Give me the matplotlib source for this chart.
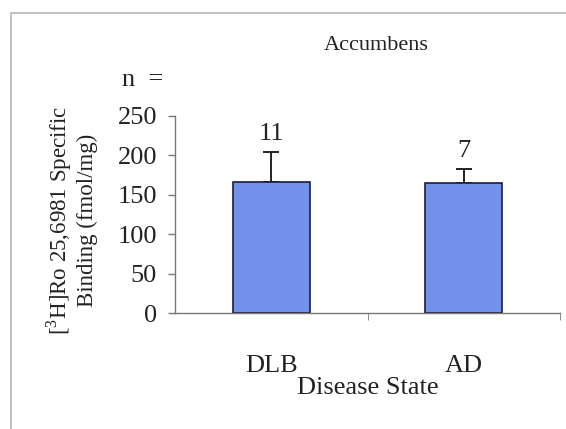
import matplotlib
matplotlib.use("Agg")
import matplotlib.pyplot as plt
from matplotlib.patches import Rectangle

# data
groups = ["DLB", "AD"]
binding = [166, 165]      # fmol/mg
sem = [38, 18]
n_cases = ["11", "7"]

plt.rcParams['font.family'] = ['Liberation Serif', 'DejaVu Serif']
plt.rcParams['mathtext.fontset'] = 'custom'
plt.rcParams['mathtext.rm'] = 'Liberation Serif'

fig = plt.figure(figsize=(5.66, 4.29), dpi=100)
fig.patch.set_facecolor('white')

# light frame around the chart area
fig.patches.append(Rectangle((11/566, -0.1), 1.2, 1.1 - 13/429, transform=fig.transFigure,
                             fill=False, edgecolor='#b5b5b5', lw=1.2))

ax = fig.add_axes([175/566, 1 - 313/429, 385/566, 197/429])
x = list(range(len(groups)))
ax.bar(x, binding, width=0.40, color='#7191ea', edgecolor='#1c1c38', lw=1.2, zorder=2)
ax.errorbar(x, binding, yerr=[[0, 0], sem], fmt='none', ecolor='#111111',
            elinewidth=1.3, capsize=5.5, capthick=1.3, zorder=1)

for xi, b, s, n in zip(x, binding, sem, n_cases):
    ax.annotate(n, (xi, b + s), xytext=(0, 5), textcoords='offset points',
                ha='center', va='bottom', fontsize=19, color='#222222')

ax.set_xlim(-0.5, 1.5)
ax.set_ylim(0, 250)
ax.set_yticks([0, 50, 100, 150, 200, 250])
ax.set_xticks(x)
ax.set_xticklabels(groups)
ax.set_xticks([0.5, 1.5], minor=True)
ax.tick_params(axis='x', which='major', length=0, pad=30, labelsize=19, labelcolor='#222222')
ax.tick_params(axis='x', which='minor', length=5, direction='out', color='#777777')
ax.tick_params(axis='y', length=5, width=1, color='#777777', pad=8, labelsize=19,
               labelcolor='#222222')
for side in ['top', 'right']:
    ax.spines[side].set_visible(False)
for side in ['left', 'bottom']:
    ax.spines[side].set_color('#777777')
    ax.spines[side].set_linewidth(1)

ax.set_xlabel('Disease State', fontsize=19, color='#222222', labelpad=0)
ax.set_ylabel('[$^{\\mathrm{3}}$H]Ro 25,6981 Specific\nBinding (fmol/mg)', fontsize=16.5,
              color='#222222', linespacing=1.2)
ax.yaxis.set_label_coords(-0.2, 0.47)

fig.text(376/566, 1 - 45/429, 'Accumbens', ha='center', va='center', fontsize=16,
         color='#222222')
fig.text(143/566, 1 - 80/429, 'n  =', ha='center', va='center', fontsize=19, color='#222222')

fig.savefig('out.png', dpi=100)
